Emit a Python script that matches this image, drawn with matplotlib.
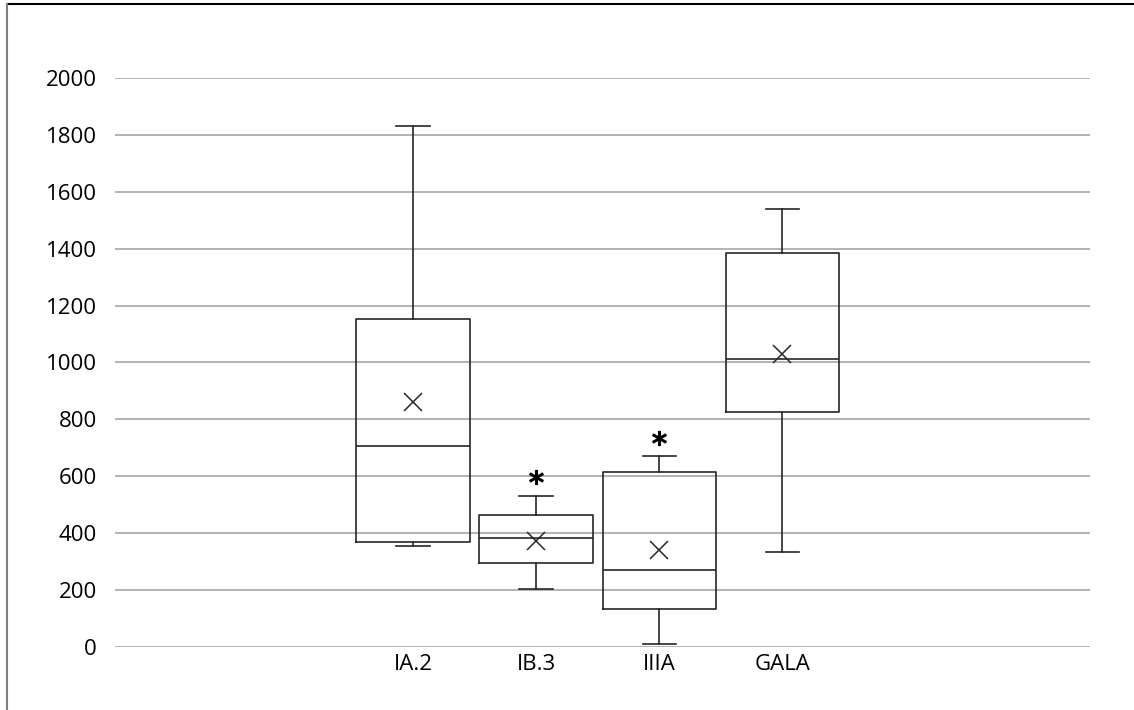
import matplotlib
matplotlib.use("Agg")
import matplotlib.pyplot as plt
from matplotlib.lines import Line2D

plt.rcParams["font.family"] = ["Open Sans", "DejaVu Sans"]

# data
groups = ["IA.2", "IB.3", "IIIA", "GALA"]
whisker_low = [356, 203, 12, 333]
q1 = [368, 294, 134, 825]
median = [707, 382, 272, 1012]
q3 = [1154, 464, 616, 1386]
whisker_high = [1831, 530, 670, 1540]
mean = [860, 374, 341, 1029]
outliers = [[], [597], [734], []]

stats = []
for i in range(len(groups)):
    stats.append({"label": groups[i], "whislo": whisker_low[i], "q1": q1[i],
                  "med": median[i], "q3": q3[i], "whishi": whisker_high[i],
                  "mean": mean[i], "fliers": outliers[i]})

fig = plt.figure(figsize=(11.34, 7.1), dpi=100)
ax = fig.add_axes([115 / 1134, 63 / 710, 975 / 1134, 569 / 710])

line = dict(color="#262626", linewidth=1.2)
ax.bxp(stats, positions=[1, 2, 3, 4], widths=0.92, showmeans=True,
       showfliers=True, boxprops=line, whiskerprops=line, capprops=line,
       medianprops=line, capwidths=0.27,
       meanprops=dict(marker="x", markersize=13, markeredgecolor="#262626",
                      markeredgewidth=1.1, linestyle="none"),
       flierprops=dict(marker="$*$", markersize=10, markerfacecolor="black",
                       markeredgecolor="black", linestyle="none"))

ax.set_xlim(-1.42, 6.5)
ax.set_ylim(0, 2000)
ax.set_yticks(range(0, 2001, 200))
ax.yaxis.grid(True, color="#a6a6a6", linewidth=1.2)
ax.set_axisbelow(True)
for s in ax.spines.values():
    s.set_visible(False)
ax.tick_params(axis="both", length=0, labelsize=16, colors="black")
ax.tick_params(axis="y", pad=13)
ax.tick_params(axis="x", pad=5)
ax.set_xticks([1, 2, 3, 4])
ax.set_xticklabels(groups)

# frame lines on top and left of the picture
fig.add_artist(Line2D([7 / 1134, 1], [1 - 4 / 710, 1 - 4 / 710], color="black", linewidth=1.5))
fig.add_artist(Line2D([7 / 1134, 7 / 1134], [0, 1 - 4 / 710], color="#808080", linewidth=1.5))

fig.savefig("out.png", dpi=100)
